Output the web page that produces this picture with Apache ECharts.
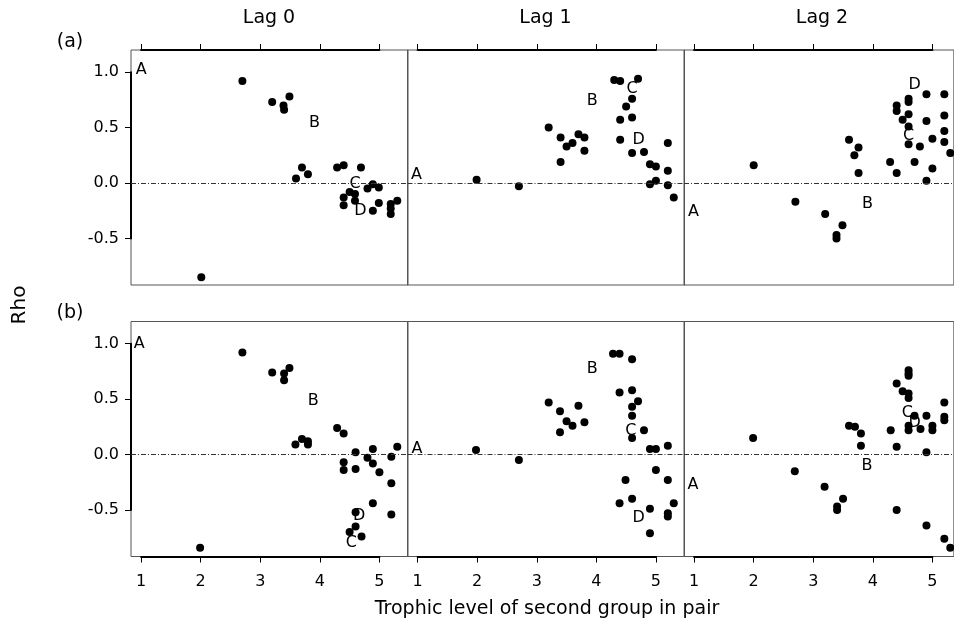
<!DOCTYPE html>
<html>
<head>
<meta charset="utf-8">
<script src="https://cdn.jsdelivr.net/npm/echarts@6/dist/echarts.min.js"></script>
<style>
  html, body { margin: 0; padding: 0; background: #fff; }
  #main { width: 954px; height: 630px; }
</style>
</head>
<body>
<div id="main"></div>
<script>
// axis ranges and ticks (last panel is cut off by the figure edge)
var xMin = 0.83;
var xMaxPanel = [5.48, 5.48, 5.36];
var yMin = -0.92, yMax = 1.2;
var xTicks = [1, 2, 3, 4, 5];
var yTicks = [-0.5, 0, 0.5, 1.0];
var lagNames = ['Lag 0', 'Lag 1', 'Lag 2'];
var rowNames = ['(a)', '(b)'];

// (a) row: trophic level, rho
var aLag0 = [[2.70,0.92],[3.20,0.73],[3.39,0.70],[3.40,0.66],[3.49,0.78],[3.60,0.04],[3.70,0.14],[3.80,0.08],
  [4.29,0.14],[4.40,0.16],[4.69,0.14],[4.89,-0.01],[4.80,-0.05],[4.99,-0.04],[4.50,-0.08],[4.59,-0.10],
  [4.59,-0.16],[4.40,-0.13],[4.40,-0.20],[4.89,-0.25],[4.99,-0.18],[5.19,-0.19],[5.19,-0.23],[5.19,-0.28],
  [5.30,-0.16],[2.01,-0.85]];
var aLag1 = [[1.99,0.03],[2.70,-0.03],[3.20,0.50],[3.40,0.41],[3.40,0.19],[3.50,0.33],[3.60,0.36],[3.70,0.44],
  [3.80,0.41],[3.80,0.29],[4.30,0.93],[4.40,0.92],[4.70,0.94],[4.60,0.76],[4.50,0.69],[4.40,0.57],[4.60,0.59],
  [4.40,0.39],[4.60,0.27],[4.80,0.28],[5.20,0.36],[4.90,0.17],[5.00,0.15],[5.20,0.11],[4.90,-0.01],[5.00,0.02],
  [5.20,-0.02],[5.30,-0.13]];
var aLag2 = [[2.00,0.16],[2.70,-0.17],[3.20,-0.28],[3.49,-0.38],[3.39,-0.47],[3.39,-0.50],[3.60,0.39],[3.76,0.32],
  [3.69,0.25],[3.76,0.09],[4.29,0.19],[4.40,0.09],[4.40,0.70],[4.40,0.65],[4.60,0.76],[4.60,0.73],[4.60,0.62],
  [4.50,0.57],[4.60,0.51],[4.60,0.35],[4.79,0.33],[4.70,0.19],[4.90,0.80],[4.90,0.56],[5.00,0.40],[5.00,0.13],
  [4.90,0.02],[5.20,0.80],[5.20,0.61],[5.20,0.47],[5.20,0.37],[5.30,0.27]];

// (b) row
var bLag0 = [[2.70,0.92],[3.20,0.74],[3.40,0.73],[3.40,0.67],[3.49,0.78],[3.59,0.09],[3.70,0.14],[3.80,0.12],
  [3.80,0.09],[4.29,0.24],[4.40,0.19],[4.60,0.02],[4.40,-0.07],[4.40,-0.14],[4.60,-0.13],[4.80,-0.03],
  [4.89,0.05],[4.89,-0.08],[5.00,-0.16],[5.20,-0.02],[5.30,0.07],[5.20,-0.26],[4.89,-0.44],[5.20,-0.54],
  [4.60,-0.52],[4.60,-0.65],[4.50,-0.70],[4.70,-0.74],[1.99,-0.84]];
var bLag1 = [[1.98,0.04],[2.70,-0.05],[3.20,0.47],[3.39,0.39],[3.39,0.20],[3.50,0.30],[3.60,0.26],[3.70,0.44],
  [3.80,0.29],[4.28,0.91],[4.39,0.91],[4.60,0.86],[4.39,0.56],[4.60,0.58],[4.70,0.48],[4.60,0.43],[4.60,0.35],
  [4.80,0.22],[4.60,0.15],[4.90,0.05],[5.00,0.05],[5.20,0.08],[5.00,-0.14],[5.20,-0.23],[4.49,-0.23],
  [4.39,-0.44],[4.60,-0.40],[4.90,-0.49],[5.20,-0.53],[5.20,-0.56],[5.30,-0.44],[4.90,-0.71]];
var bLag2 = [[1.99,0.15],[2.69,-0.15],[3.19,-0.29],[3.50,-0.40],[3.40,-0.47],[3.40,-0.50],[3.60,0.26],[3.70,0.25],
  [3.80,0.19],[3.80,0.08],[4.30,0.22],[4.40,0.07],[4.40,0.64],[4.40,-0.50],[4.60,0.76],[4.60,0.73],[4.60,0.71],
  [4.50,0.57],[4.60,0.55],[4.60,0.51],[4.70,0.35],[4.60,0.26],[4.60,0.22],[4.80,0.23],[4.90,0.35],[5.00,0.26],
  [5.00,0.22],[4.90,0.02],[5.20,0.47],[5.20,0.34],[5.20,0.31],[4.90,-0.64],[5.20,-0.76],[5.30,-0.84]];

// letter labels: name, x, y
var aLetters0 = [['A',1.00,1.02],['B',3.91,0.54],['C',4.59,-0.01],['D',4.68,-0.25]];
var aLetters1 = [['A',0.98,0.07],['B',3.93,0.74],['C',4.60,0.85],['D',4.71,0.39]];
var aLetters2 = [['A',0.99,-0.26],['B',3.91,-0.19],['C',4.60,0.43],['D',4.70,0.89]];
var bLetters0 = [['A',0.97,1.00],['B',3.89,0.48],['C',4.53,-0.80],['D',4.66,-0.55]];
var bLetters1 = [['A',0.99,0.05],['B',3.93,0.77],['C',4.58,0.21],['D',4.71,-0.57]];
var bLetters2 = [['A',0.98,-0.27],['B',3.90,-0.10],['C',4.58,0.38],['D',4.70,0.29]];

var points = [aLag0, aLag1, aLag2, bLag0, bLag1, bLag2];
var letters = [aLetters0, aLetters1, aLetters2, bLetters0, bLetters1, bLetters2];

var FONT = 'DejaVu Sans';
var panelLeft = [131, 407.5, 684];
var rowTop = [50, 321.5];
var panelH = 235;
var xUnit = 59.57; // px per trophic level
var yUnit = panelH / (yMax - yMin);

var myChart = echarts.init(document.getElementById('main'));

var grids = [], xAxes = [], yAxes = [], series = [];

function addGrid(g, xa, ya) {
  var idx = grids.length;
  grids.push(g);
  xa.gridIndex = idx; ya.gridIndex = idx;
  xAxes.push(xa); yAxes.push(ya);
  return idx;
}

// main panels
for (var r = 0; r < 2; r++) {
  for (var c = 0; c < 3; c++) {
    var k = r * 3 + c;
    var gi = addGrid(
      { left: panelLeft[c], top: rowTop[r], width: (xMaxPanel[c] - xMin) * xUnit, height: panelH,
        show: true, borderColor: '#555', borderWidth: 1, backgroundColor: 'transparent' },
      { type: 'value', min: xMin, max: xMaxPanel[c], show: false },
      { type: 'value', min: yMin, max: yMax, show: false }
    );
    series.push({
      type: 'scatter', xAxisIndex: gi, yAxisIndex: gi, silent: true,
      symbolSize: 8, itemStyle: { color: '#000', opacity: 1 },
      data: points[k],
      markLine: {
        silent: true, symbol: ['none', 'none'], label: { show: false },
        lineStyle: { color: '#333', width: 1, type: [5, 2, 1, 2] },
        data: [{ yAxis: 0 }]
      }
    });
    series.push({
      type: 'scatter', xAxisIndex: gi, yAxisIndex: gi, silent: true,
      symbolSize: 1, itemStyle: { color: 'transparent', opacity: 1 },
      label: { show: true, position: 'inside', formatter: '{b}', color: '#000', opacity: 1,
        fontFamily: FONT, fontSize: 16 },
      data: letters[k].map(function (d) { return { name: d[0], value: [d[1], d[2]] }; })
    });
  }
}

// x tick axes drawn from 1 to 5 (top of row a, bottom of row b)
for (var c = 0; c < 3; c++) {
  var l = panelLeft[c] + (xTicks[0] - xMin) * xUnit;
  var w = (xTicks[xTicks.length - 1] - xTicks[0]) * xUnit;
  for (var r = 0; r < 2; r++) {
    addGrid(
      { left: l, top: rowTop[r], width: w, height: panelH },
      { type: 'value', position: r === 0 ? 'top' : 'bottom', min: 1, max: 5, interval: 1,
        axisLine: { show: true, onZero: false, lineStyle: { color: '#000', width: 2 } },
        axisTick: { show: true, length: 6, lineStyle: { color: '#000', width: 1 } },
        axisLabel: { show: r === 1, margin: 17, color: '#000', fontFamily: FONT, fontSize: 16 },
        splitLine: { show: false } },
      { type: 'value', min: 0, max: 1, show: false }
    );
  }
}

// y tick axes from -0.5 to 1.0 on the left panels
for (var r = 0; r < 2; r++) {
  var t = rowTop[r] + (yMax - yTicks[yTicks.length - 1]) * yUnit;
  var h = (yTicks[yTicks.length - 1] - yTicks[0]) * yUnit;
  addGrid(
    { left: panelLeft[0], top: t, width: 277, height: h },
    { type: 'value', min: 0, max: 1, show: false },
    { type: 'value', position: 'left', min: -0.5, max: 1.0, interval: 0.5,
      axisLine: { show: true, onZero: false, lineStyle: { color: '#000', width: 2 } },
      axisTick: { show: true, length: 6, lineStyle: { color: '#000', width: 1 } },
      axisLabel: { margin: 12, color: '#000', fontFamily: FONT, fontSize: 16,
        formatter: function (v) { return v.toFixed(1); } },
      splitLine: { show: false } }
  );
}

var textStyle = { fill: '#000', fontFamily: FONT, textAlign: 'center', textVerticalAlign: 'middle' };
var graphics = [];
lagNames.forEach(function (n, i) {
  graphics.push({ type: 'text', x: panelLeft[i] + 138, y: 18,
    style: Object.assign({ text: n, fontSize: 19 }, textStyle) });
});
graphics.push({ type: 'text', x: 70, y: 42, style: Object.assign({ text: rowNames[0], fontSize: 19 }, textStyle) });
graphics.push({ type: 'text', x: 70, y: 313, style: Object.assign({ text: rowNames[1], fontSize: 19 }, textStyle) });
graphics.push({ type: 'text', x: 20, y: 305, rotation: Math.PI / 2,
  style: Object.assign({ text: 'Rho', fontSize: 20 }, textStyle) });
graphics.push({ type: 'text', x: 547, y: 609,
  style: Object.assign({ text: 'Trophic level of second group in pair', fontSize: 19 }, textStyle) });

var option = {
  animation: false,
  grid: grids,
  xAxis: xAxes,
  yAxis: yAxes,
  graphic: graphics,
  series: series
};
myChart.setOption(option);
</script>
</body>
</html>
